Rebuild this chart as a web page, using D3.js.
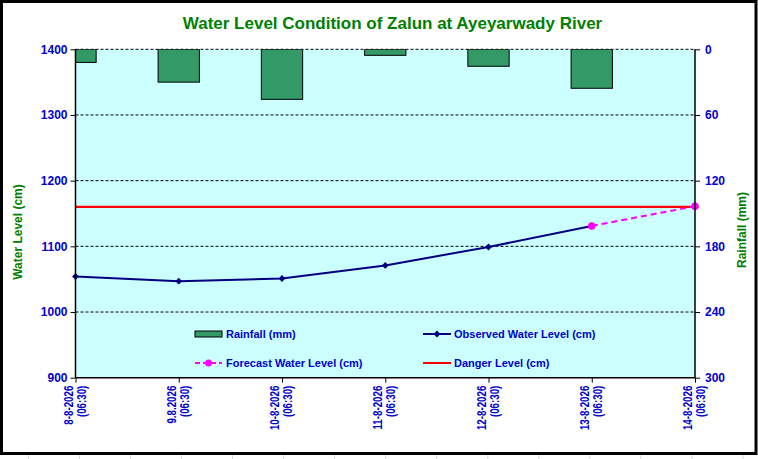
<!DOCTYPE html>
<html>
<head>
<meta charset="utf-8">
<script src="https://cdn.jsdelivr.net/npm/d3@7/dist/d3.min.js"></script>
<style>
html,body{margin:0;padding:0;background:#fff;}
svg{display:block;font-family:"Liberation Sans",Arial,sans-serif;}
</style>
</head>
<body>
<svg id="chart" width="758" height="459"></svg>
<script>
// ---- data ----
const dates = ["8-8-2026","9.8.2026","10-8-2026","11-8-2026","12-8-2026","13-8-2026","14-8-2026"];
const times = ["(06:30)","(06:30)","(06:30)","(06:30)","(06:30)","(06:30)","(06:30)"];
const rainfall = [12, 30, 45.7, 5.5, 15.5, 35.6, 0];
const observed = [1054, 1047, 1051, 1071, 1099, 1131, null];
const forecast = [null, null, null, null, null, 1131, 1161];
const dangerLevel = 1160;
const leftTicks = [900, 1000, 1100, 1200, 1300, 1400];
const rightTicks = [0, 60, 120, 180, 240, 300];
const title = "Water Level Condition of Zalun at Ayeyarwady River";

// ---- layout ----
const svg = d3.select("#chart");
const W = 758, H = 459;
const L = 75.5, R = 695, T = 49.3, B = 377.7;
const green = "#008000", blue = "#0000d0";

// spreadsheet cell lines under the chart
svg.append("g").selectAll("line").data(d3.range(0, 15)).join("line")
  .attr("x1", d => 28.3 + d * 51.05).attr("x2", d => 28.3 + d * 51.05)
  .attr("y1", 455).attr("y2", H).attr("stroke", "#d8d8d8").attr("stroke-width", 1);

// outer frame
svg.append("rect").attr("x", 1.5).attr("y", 1.5).attr("width", 754.5).attr("height", 452)
  .attr("fill", "#fff").attr("stroke", "#000").attr("stroke-width", 3);

const x = d3.scalePoint().domain(dates).range([L, R]);
const yL = d3.scaleLinear().domain([900, 1400]).range([B, T]);
const yR = d3.scaleLinear().domain([0, 300]).range([T, B]);
const step = x.step();
const barW = step * 0.4;

// plot background
svg.append("rect").attr("x", L).attr("y", T).attr("width", R - L).attr("height", B - T).attr("fill", "#ccffff");

// gridlines
svg.append("g").selectAll("line").data(leftTicks.filter(d => d > 900)).join("line")
  .attr("x1", L).attr("x2", R).attr("y1", d => yL(d)).attr("y2", d => yL(d))
  .attr("stroke", "#000").attr("stroke-width", 1).attr("stroke-dasharray", "3,2");

// clip
svg.append("clipPath").attr("id", "plotclip").append("rect")
  .attr("x", L).attr("y", T).attr("width", R - L).attr("height", B - T);

// bars
svg.append("g").attr("clip-path", "url(#plotclip)").selectAll("rect")
  .data(dates.map((d, i) => ({d, v: rainfall[i]})).filter(o => o.v > 0)).join("rect")
  .attr("x", o => x(o.d) - barW / 2).attr("y", yR(0))
  .attr("width", barW).attr("height", o => yR(o.v) - yR(0))
  .attr("fill", "#339966").attr("stroke", "#000").attr("stroke-width", 1);

// danger line
svg.append("line").attr("x1", L).attr("x2", R).attr("y1", yL(dangerLevel)).attr("y2", yL(dangerLevel))
  .attr("stroke", "#ff0000").attr("stroke-width", 2.2);

// observed line
const obsData = dates.map((d, i) => ({d, v: observed[i]})).filter(o => o.v != null);
const line = d3.line().x(o => x(o.d)).y(o => yL(o.v));
svg.append("path").datum(obsData).attr("d", line).attr("fill", "none")
  .attr("stroke", "#000080").attr("stroke-width", 2);
svg.append("g").selectAll("path").data(obsData).join("path")
  .attr("d", d3.symbol().type(d3.symbolDiamond2).size(30))
  .attr("transform", o => `translate(${x(o.d)},${yL(o.v)})`)
  .attr("fill", "#000080");

// forecast line
const fcData = dates.map((d, i) => ({d, v: forecast[i]})).filter(o => o.v != null);
svg.append("path").datum(fcData).attr("d", line).attr("fill", "none")
  .attr("stroke", "#ff00ff").attr("stroke-width", 2).attr("stroke-dasharray", "6,4");
svg.append("g").selectAll("circle").data(fcData).join("circle")
  .attr("cx", o => x(o.d)).attr("cy", o => yL(o.v)).attr("r", 3.8)
  .attr("fill", "#ff00ff");

// axes
const axL = svg.append("g").attr("transform", `translate(${L},0)`)
  .call(d3.axisLeft(yL).tickValues(leftTicks).tickFormat(d3.format("d")).tickSize(5).tickPadding(3));
const axR = svg.append("g").attr("transform", `translate(${R},0)`)
  .call(d3.axisRight(yR).tickValues(rightTicks).tickFormat(d3.format("d")).tickSize(5).tickPadding(5));
const axB = svg.append("g").attr("transform", `translate(0,${B})`)
  .call(d3.axisBottom(x).tickSize(5).tickFormat(""));
[axL, axR, axB].forEach(a => {
  a.select(".domain").attr("stroke", "#000").attr("stroke-width", 1.5);
  a.selectAll(".tick line").attr("stroke", "#000");
});
axB.select(".domain").attr("d", `M${L},0H${R}`);
axL.select(".domain").attr("d", `M0,${T}V${B}`);
axR.select(".domain").attr("d", `M0,${T}V${B}`);
[axL, axR].forEach(a => a.selectAll(".tick text")
  .attr("font-family", "Liberation Sans, Arial, sans-serif")
  .attr("font-size", 12).attr("font-weight", "bold").attr("fill", blue));

// x labels (rotated, two lines)
const xl = svg.append("g").selectAll("g").data(dates).join("g")
  .attr("transform", d => `translate(${x(d)},${B + 8}) rotate(-90) scale(0.78,1)`);
xl.append("text").attr("text-anchor", "end").attr("x", 0).attr("y", -3)
  .attr("font-size", 12.5).attr("font-weight", "bold").attr("fill", blue).text(d => d);
xl.append("text").attr("text-anchor", "end").attr("x", 0).attr("y", 10)
  .attr("font-size", 12.5).attr("font-weight", "bold").attr("fill", blue)
  .text((d, i) => times[i]);

// title
svg.append("text").attr("x", 392.5).attr("y", 28.5).attr("text-anchor", "middle")
  .attr("font-size", 17).attr("font-weight", "bold").attr("fill", green).text(title);

// axis titles
svg.append("text").attr("transform", "translate(22,232) rotate(-90)").attr("text-anchor", "middle")
  .attr("font-size", 12).attr("font-weight", "bold").attr("fill", green).text("Water Level (cm)");
svg.append("text").attr("transform", "translate(746,230) rotate(-90)").attr("text-anchor", "middle")
  .attr("font-size", 12).attr("font-weight", "bold").attr("fill", green).text("Rainfall (mm)");

// legend
const leg = svg.append("g").attr("font-size", 11).attr("font-weight", "bold").attr("fill", blue);
// rainfall
leg.append("rect").attr("x", 195).attr("y", 331).attr("width", 27).attr("height", 6)
  .attr("fill", "#339966").attr("stroke", "#000").attr("stroke-width", 1);
leg.append("text").attr("x", 226).attr("y", 338).text("Rainfall (mm)");
// observed
leg.append("line").attr("x1", 423).attr("x2", 451).attr("y1", 334).attr("y2", 334)
  .attr("stroke", "#000080").attr("stroke-width", 2);
leg.append("path").attr("d", d3.symbol().type(d3.symbolDiamond2).size(30))
  .attr("transform", "translate(437,334)").attr("fill", "#000080");
leg.append("text").attr("x", 454).attr("y", 338).text("Observed Water Level (cm)");
// forecast
leg.append("line").attr("x1", 195).attr("x2", 222).attr("y1", 363).attr("y2", 363)
  .attr("stroke", "#ff00ff").attr("stroke-width", 2).attr("stroke-dasharray", "5,3");
leg.append("circle").attr("cx", 208.5).attr("cy", 363).attr("r", 3.5).attr("fill", "#ff00ff");
leg.append("text").attr("x", 226).attr("y", 367).text("Forecast Water Level (cm)");
// danger
leg.append("line").attr("x1", 423).attr("x2", 451).attr("y1", 363).attr("y2", 363)
  .attr("stroke", "#ff0000").attr("stroke-width", 2);
leg.append("text").attr("x", 454).attr("y", 367).text("Danger Level (cm)");
</script>
</body>
</html>
